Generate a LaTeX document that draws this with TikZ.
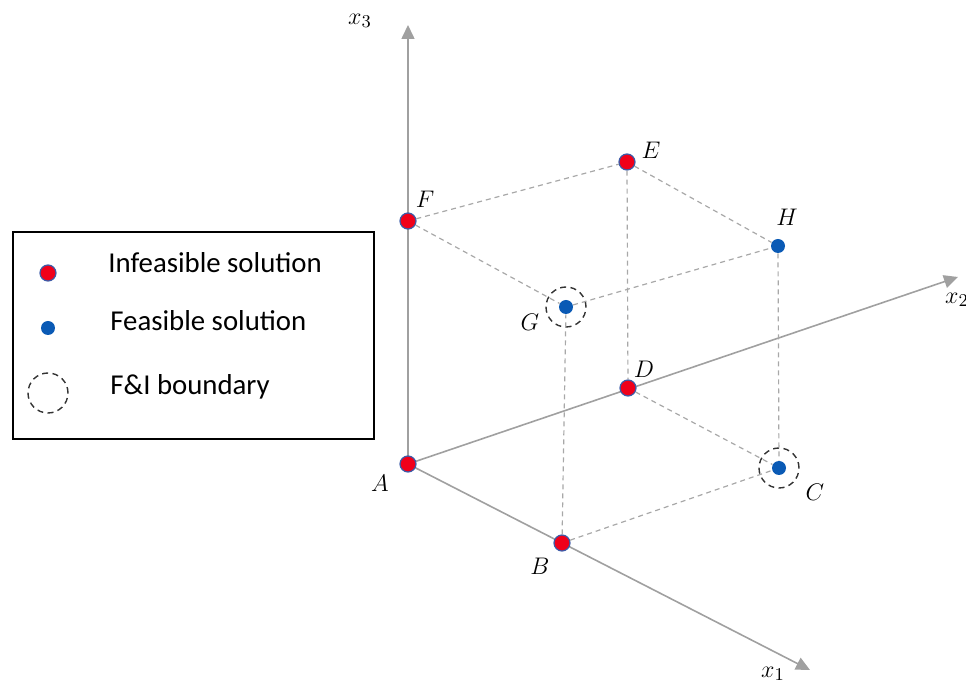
\documentclass[tikz,border=0pt]{standalone}
\usepackage{fontspec}
\setmainfont{Carlito}
\usepackage{xcolor}
\usetikzlibrary{arrows.meta,backgrounds}

\definecolor{axisgray}{HTML}{A0A0A0}
\definecolor{edgegray}{HTML}{A8A8A8}
\definecolor{dotred}{HTML}{F0001A}
\definecolor{dotrim}{HTML}{3B5BA8}
\definecolor{dotblue}{HTML}{0A5AB5}

\begin{document}
\begin{tikzpicture}[x=0.5pt,y=-0.5pt,
  every node/.style={align=center},
  axis/.style={draw=axisgray, line width=0.8pt, -{Triangle[length=7pt,width=6.5pt]}},
  cubeedge/.style={draw=edgegray, line width=0.6pt, dash pattern=on 2.5pt off 2pt},
  infeas/.style={circle, fill=dotred, draw=dotrim, line width=0.6pt, minimum size=8pt, inner sep=0pt},
  feas/.style={circle, fill=dotblue, minimum size=7pt, inner sep=0pt},
  bound/.style={circle, draw=black!80, dash pattern=on 3pt off 2.2pt, line width=0.7pt, minimum size=20pt, inner sep=0pt},
  lbl/.style={font=\fontsize{13}{15}\selectfont, inner sep=0pt},
  legtxt/.style={font=\fontsize{14.4}{17}\selectfont, anchor=base west, inner sep=0pt}]

\useasboundingbox (0,0) rectangle (966,684);

% ---------------- solution points ----------------
\node[infeas] (A) at (408,464) {};
\node[infeas] (B) at (562,543) {};
\node[feas]   (C) at (779,468) {};
\node[infeas] (D) at (628,388) {};
\node[infeas] (E) at (627,162) {};
\node[infeas] (F) at (408,221) {};
\node[feas]   (G) at (566,307) {};
\node[feas]   (H) at (778,246) {};

% boundary rings
\node[bound] (Gring) at (G) {};
\node[bound] (Cring) at (C) {};

% point labels
\node[lbl] at (380,483) {$A$};
\node[lbl] at (540,566) {$B$};
\node[lbl] at (815,492) {$C$};
\node[lbl] at (644,369) {$D$};
\node[lbl] at (651,150) {$E$};
\node[lbl] at (425,199) {$F$};
\node[lbl] at (530,322) {$G$};
\node[lbl] at (787,217) {$H$};

% ---------------- axes ----------------
\coordinate (x1tip) at (810,670);
\coordinate (x2tip) at (958,277);
\coordinate (x3tip) at (408,25);
\begin{scope}[on background layer]
\draw[axis] (A.center) -- (x1tip);
\draw[axis] (A.center) -- (x2tip);
\draw[axis] (A.center) -- (x3tip);
\end{scope}
\node[lbl] (x1lab) at (773,674) {$x_1$};
\node[lbl] (x2lab) at (957,300) {$x_2$};
\node[lbl] (x3lab) at (360,21) {$x_3$};

% ---------------- cube edges ----------------
\draw[cubeedge] (B) -- (C);
\draw[cubeedge] (D) -- (C);
\draw[cubeedge] (H) -- (C);
\draw[cubeedge] (B) -- (G);
\draw[cubeedge] (F) -- (G);
\draw[cubeedge] (G) -- (H);
\draw[cubeedge] (F) -- (E);
\draw[cubeedge] (E) -- (H);
\draw[cubeedge] (E) -- (D);

% ---------------- legend ----------------
\node[draw, line width=0.8pt, anchor=north west, minimum width=180.5pt, minimum height=103.5pt, inner sep=0pt] (legend) at (12,231) {};
\node[infeas] (legred) at (48,273) {};
\node[feas] (legblue) at (48,328) {};
\node[bound] (legring) at (48,393) {};
\node[legtxt] (legt1) at (108,273) {Infeasible solution};
\node[legtxt] (legt2) at (110,331) {Feasible solution};
\node[legtxt] (legt3) at (110,395) {F\&I boundary};
\end{tikzpicture}
\end{document}
